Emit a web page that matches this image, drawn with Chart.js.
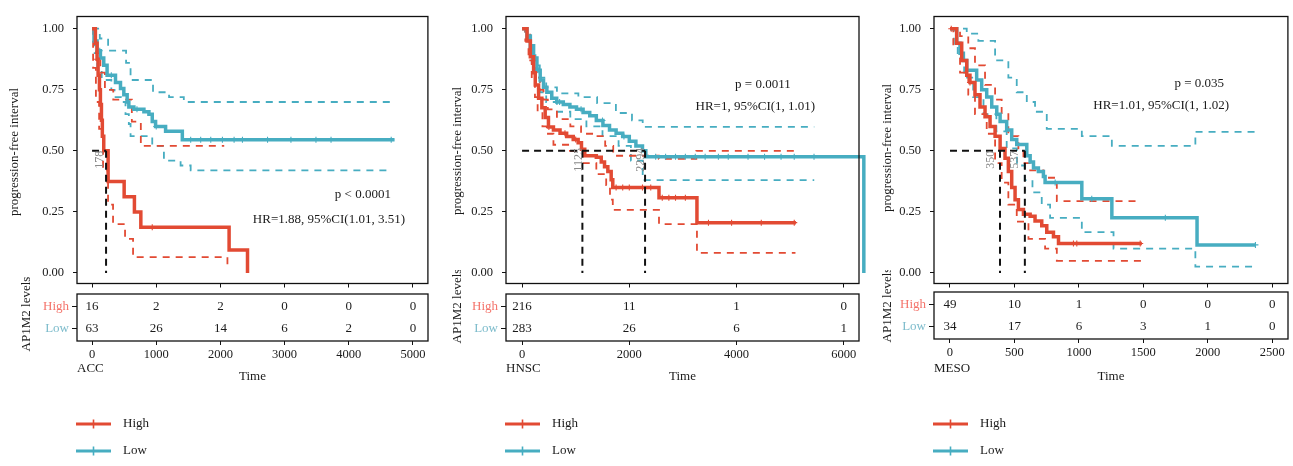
<!DOCTYPE html>
<html>
<head>
<meta charset="utf-8">
<title>AP1M2 levels and progression-free interval</title>
<script src="https://cdn.jsdelivr.net/npm/chart.js@4.4.1/dist/chart.umd.min.js"></script>
<style>
  html, body { margin: 0; padding: 0; background: #fff; }
  #wrap { position: relative; width: 1293px; height: 466px; overflow: hidden; background: #fff; }
  canvas { position: absolute; }
</style>
</head>
<body>
<div id="wrap"></div>
<script>
// ---- values: [time, survival] ----
const yTicks = [0, 0.25, 0.5, 0.75, 1];
const groups = ['High', 'Low'];
const yTitle = 'progression-free interval';
const tableTitle = 'AP1M2 levels';
const xTitle = 'Time';

// ACC
const accHigh = [[0,1],[52,0.94],[78,0.875],[94,0.81],[115,0.75],[130,0.69],[146,0.625],[160,0.56],[182,0.5],[250,0.375],[500,0.3125],[660,0.25],[760,0.1875],[2136,0.094],[2423,0]];
const accHighUp = [[0,1],[60,0.9],[130,0.82],[200,0.75],[330,0.71],[620,0.62],[760,0.52],[2060,0.52]];
const accHighLow = [[0,1],[16,0.84],[60,0.7],[110,0.59],[171,0.42],[249,0.28],[327,0.2],[514,0.14],[639,0.065],[2110,0.025]];
const accHighCens = [78, 938];
const accLow = [[0,1],[30,0.95],[78,0.91],[130,0.88],[182,0.85],[234,0.81],[365,0.78],[443,0.755],[495,0.73],[547,0.7],[573,0.68],[651,0.67],[808,0.66],[886,0.65],[938,0.62],[990,0.6],[1146,0.58],[1407,0.545],[4715,0.545]];
const accLowUp = [[0,1],[120,0.96],[250,0.91],[530,0.86],[600,0.79],[950,0.74],[1200,0.72],[1430,0.7],[4715,0.7]];
const accLowLow = [[0,1],[40,0.9],[80,0.84],[150,0.79],[300,0.75],[350,0.72],[450,0.7],[521,0.65],[573,0.61],[600,0.56],[938,0.52],[1120,0.46],[1380,0.44],[1537,0.42],[4640,0.42]];
const accLowCens = [120, 300, 700, 1000, 1537, 1693, 1850, 2032, 2214, 2344, 2735, 3100, 3490, 3725, 4663];
const accMedianLine = [218];
const accMedianLabel = [178];
const accStats = ['p < 0.0001', 'HR=1.88, 95%CI(1.01, 3.51)'];
const accTimes = [0, 1000, 2000, 3000, 4000, 5000];
const accRiskHigh = [16, 2, 2, 0, 0, 0];
const accRiskLow = [63, 26, 14, 6, 2, 0];

// HNSC
const hnscHigh = [[0,1],[92,0.95],[154,0.885],[215,0.82],[246,0.77],[308,0.715],[369,0.676],[431,0.637],[492,0.598],[585,0.585],[708,0.572],[831,0.559],[954,0.546],[1046,0.533],[1108,0.507],[1169,0.48],[1385,0.474],[1477,0.454],[1538,0.435],[1600,0.415],[1662,0.382],[1692,0.35],[2554,0.308],[3262,0.206],[5108,0.206]];
const hnscHighUp = [[0,1],[90,0.98],[150,0.93],[215,0.87],[280,0.8],[340,0.75],[400,0.71],[480,0.67],[650,0.63],[900,0.6],[1100,0.57],[1350,0.56],[1550,0.52],[1700,0.48],[2550,0.467],[3250,0.5],[5110,0.5]];
const hnscHighLow = [[0,1],[60,0.95],[120,0.87],[180,0.79],[240,0.72],[290,0.66],[380,0.6],[462,0.57],[585,0.525],[892,0.5],[1138,0.45],[1385,0.405],[1569,0.36],[1640,0.3],[1692,0.258],[2554,0.2],[3262,0.082],[5100,0.082]];
const hnscHighCens = [500, 800, 1000, 1754, 1877, 2000, 2246, 2400, 2615, 2738, 2862, 3046, 3477, 3908, 4462, 5077];
const hnscLow = [[0,1],[92,0.97],[154,0.93],[215,0.88],[277,0.83],[338,0.79],[400,0.76],[462,0.74],[554,0.715],[646,0.7],[769,0.69],[892,0.68],[1015,0.67],[1138,0.657],[1262,0.644],[1385,0.624],[1508,0.604],[1631,0.585],[1754,0.572],[1877,0.559],[2000,0.539],[2123,0.52],[2246,0.5],[2308,0.476],[6375,0]];
const hnscLowUp = [[0,1],[60,0.98],[120,0.95],[180,0.9],[250,0.85],[330,0.8],[450,0.76],[650,0.735],[1050,0.72],[1400,0.695],[1750,0.655],[2050,0.625],[2250,0.598],[5450,0.598]];
const hnscLowLow = [[0,1],[60,0.96],[120,0.92],[180,0.86],[250,0.8],[330,0.74],[450,0.7],[650,0.66],[900,0.63],[1200,0.6],[1500,0.56],[1800,0.52],[2030,0.46],[2250,0.38],[5450,0.38]];
const hnscLowCens = [300, 700, 1100, 1500, 1900, 2492, 2677, 2862, 3046, 3231, 3415, 3662, 3846, 4215, 4523, 4831, 5077, 5446];
const hnscMedianLine = [1125, 2294];
const hnscMedianLabel = [1125, 2294];
const hnscStats = ['p = 0.0011', 'HR=1, 95%CI(1, 1.01)'];
const hnscTimes = [0, 2000, 4000, 6000];
const hnscRiskHigh = [216, 11, 1, 0];
const hnscRiskLow = [283, 26, 6, 1];

// MESO
const mesoHigh = [[0,1],[52,0.94],[91,0.87],[130,0.81],[155,0.78],[194,0.73],[233,0.68],[272,0.64],[311,0.6],[350,0.56],[389,0.51],[427,0.47],[453,0.415],[479,0.35],[505,0.3],[531,0.26],[570,0.24],[622,0.232],[660,0.213],[712,0.193],[751,0.167],[803,0.148],[842,0.121],[1489,0.121]];
const mesoHighUp = [[0,1],[78,0.97],[142,0.92],[194,0.85],[272,0.77],[350,0.71],[401,0.65],[453,0.56],[531,0.51],[570,0.45],[622,0.42],[725,0.39],[829,0.294],[1450,0.294]];
const mesoHighLow = [[0,1],[26,0.93],[78,0.82],[142,0.73],[194,0.65],[285,0.57],[350,0.45],[401,0.37],[453,0.28],[518,0.21],[609,0.14],[738,0.1],[829,0.05],[1489,0.05]];
const mesoHighCens = [10, 155, 958, 984, 1476];
const mesoLow = [[0,1],[52,0.94],[78,0.9],[104,0.87],[130,0.83],[207,0.79],[246,0.75],[285,0.72],[324,0.68],[363,0.65],[389,0.62],[440,0.585],[479,0.546],[518,0.526],[596,0.48],[622,0.454],[648,0.43],[686,0.415],[725,0.395],[738,0.37],[1023,0.304],[1256,0.226],[1917,0.115],[2370,0.115]];
const mesoLowUp = [[0,1],[130,0.98],[220,0.95],[350,0.87],[453,0.8],[518,0.74],[596,0.7],[660,0.66],[751,0.59],[1023,0.56],[1256,0.52],[1904,0.578],[2370,0.578]];
const mesoLowLow = [[0,1],[30,0.93],[60,0.88],[110,0.8],[180,0.72],[260,0.65],[360,0.58],[440,0.51],[520,0.44],[580,0.38],[640,0.33],[712,0.28],[777,0.226],[1023,0.167],[1269,0.1],[1904,0.026],[2370,0.026]];
const mesoLowCens = [816, 1100, 1671, 2370];
const mesoMedianLine = [388, 581];
const mesoMedianLabel = [350, 537];
const mesoStats = ['p = 0.035', 'HR=1.01, 95%CI(1, 1.02)'];
const mesoTimes = [0, 500, 1000, 1500, 2000, 2500];
const mesoRiskHigh = [49, 10, 1, 0, 0, 0];
const mesoRiskLow = [34, 17, 6, 3, 1, 0];

// ---- styling / layout ----
const FONT = '"Liberation Serif", "DejaVu Serif", serif';
const RED = '#E24A33';
const TEAL = '#47ADC1';
const RED_LBL = '#F4736A';
const TEAL_LBL = '#7CBBCB';
const INK = '#1a1a1a';
const TAB_TOP = 270;   // page y of the risk-table canvas

const panels = [
  { name: 'ACC', high: accHigh, highUp: accHighUp, highLow: accHighLow, highCens: accHighCens,
    low: accLow, lowUp: accLowUp, lowLow: accLowLow, lowCens: accLowCens,
    medLine: accMedianLine, medLabel: accMedianLabel, stats: accStats,
    times: accTimes, risk: [accRiskHigh, accRiskLow],
    left: 0, width: 433, km: [77, 11, 428, 290], tab: [294, 341], xr: [-235, 5235],
    yTitleX: 15, yTitleY: 152, tabTitleX: 27, tabTitleY: 314, statPos: [[4221, 0.32], [3692, 0.22]] },
  { name: 'HNSC', high: hnscHigh, highUp: hnscHighUp, highLow: hnscHighLow, highCens: hnscHighCens,
    low: hnscLow, lowUp: hnscLowUp, lowLow: hnscLowLow, lowCens: hnscLowCens,
    medLine: hnscMedianLine, medLabel: hnscMedianLabel, stats: hnscStats,
    times: hnscTimes, risk: [hnscRiskHigh, hnscRiskLow],
    left: 430, width: 440, km: [506, 11, 859, 290], tab: [294, 341], xr: [-300, 6285],
    yTitleX: 458, yTitleY: 151, tabTitleX: 458, tabTitleY: 306, statPos: [[4492, 0.77], [4352, 0.68]] },
  { name: 'MESO', high: mesoHigh, highUp: mesoHighUp, highLow: mesoHighLow, highCens: mesoHighCens,
    low: mesoLow, lowUp: mesoLowUp, lowLow: mesoLowLow, lowCens: mesoLowCens,
    medLine: mesoMedianLine, medLabel: mesoMedianLabel, stats: mesoStats,
    times: mesoTimes, risk: [mesoRiskHigh, mesoRiskLow],
    left: 860, width: 433, km: [934, 8, 1288, 287], tab: [292, 339], xr: [-124, 2622],
    yTitleX: 888, yTitleY: 148, tabTitleX: 888, tabTitleY: 305, statPos: [[1934, 0.776], [1639, 0.686]] }
];

function pts(curve) { return curve.map(p => ({ x: p[0], y: p[1] })); }
function stepAt(curve, t) {
  let s = curve[0][1];
  curve.forEach(p => { if (p[0] <= t) s = p[1]; });
  return s;
}
function makeCanvas(left, top, w, h) {
  const c = document.createElement('canvas');
  c.width = w; c.height = h;
  c.style.left = left + 'px'; c.style.top = top + 'px';
  c.style.width = w + 'px'; c.style.height = h + 'px';
  document.getElementById('wrap').appendChild(c);
  return c.getContext('2d');
}
function stepLine(curve, color, width, dash) {
  return { data: pts(curve), showLine: true, stepped: 'before', borderColor: color, borderWidth: width,
           borderDash: dash || [], pointRadius: 0, fill: false, clip: { left: 0, top: 0, right: 8, bottom: 0 } };
}
function censMarks(curve, times, color) {
  return { data: times.map(t => ({ x: t, y: stepAt(curve, t) })), showLine: false, pointStyle: 'cross',
           pointRadius: 3, borderColor: color, borderWidth: 1.1 };
}
function blackDash(data) {
  return { data: data, showLine: true, borderColor: '#111', borderWidth: 2, borderDash: [7, 5], pointRadius: 0 };
}
function rotText(ctx, text, x, y) {
  ctx.save();
  ctx.translate(x, y);
  ctx.rotate(-Math.PI / 2);
  ctx.fillText(text, 0, 0);
  ctx.restore();
}
function fixedTicks(values) {
  return axis => { axis.ticks = values.map(v => ({ value: v })); };
}

function drawKM(p) {
  const H = 300;
  const ctx = makeCanvas(p.left, 0, p.width, H);
  const a = { l: p.km[0] - p.left, t: p.km[1], r: p.km[2] - p.left, b: p.km[3] };

  const datasets = [];
  const lastMed = Math.max(...p.medLine);
  datasets.push(blackDash([{ x: 0, y: 0.5 }, { x: lastMed, y: 0.5 }]));
  p.medLine.forEach(m => datasets.push(blackDash([{ x: m, y: 0.5 }, { x: m, y: 0 }])));
  datasets.push(stepLine(p.high, RED, 3.5));
  datasets.push(stepLine(p.low, TEAL, 3.5));
  datasets.push(censMarks(p.high, p.highCens, RED));
  datasets.push(censMarks(p.low, p.lowCens, TEAL));
  datasets.push(stepLine(p.highUp, RED, 1.8, [7, 6]));
  datasets.push(stepLine(p.highLow, RED, 1.8, [7, 6]));
  datasets.push(stepLine(p.lowUp, TEAL, 1.8, [7, 6]));
  datasets.push(stepLine(p.lowLow, TEAL, 1.8, [7, 6]));

  const kmText = {
    id: 'kmText',
    afterDraw(chart) {
      const c = chart.ctx, ca = chart.chartArea;
      const xs = chart.scales.x, ys = chart.scales.y;
      c.save();
      c.strokeStyle = '#111';
      c.lineWidth = 1.3;
      c.strokeRect(ca.left, ca.top, ca.right - ca.left, ca.bottom - ca.top);
      c.fillStyle = INK;
      c.textAlign = 'center';
      c.textBaseline = 'middle';
      c.font = '13px ' + FONT;
      rotText(c, yTitle, p.yTitleX - p.left, p.yTitleY);
      p.stats.forEach((s, i) => {
        c.fillText(s, xs.getPixelForValue(p.statPos[i][0]), ys.getPixelForValue(p.statPos[i][1]));
      });
      c.fillStyle = '#8a8a8a';
      c.font = '12px ' + FONT;
      p.medLabel.forEach(v => {
        rotText(c, String(v), xs.getPixelForValue(v) - 4, ys.getPixelForValue(0.5) + 9);
      });
      c.restore();
    }
  };

  new Chart(ctx, {
    type: 'scatter',
    data: { datasets: datasets },
    options: {
      responsive: false, animation: false, events: [],
      layout: { padding: { top: a.t, right: p.width - a.r, left: 0, bottom: 0 } },
      plugins: { legend: { display: false }, tooltip: { enabled: false } },
      scales: {
        x: {
          type: 'linear', min: p.xr[0], max: p.xr[1],
          afterBuildTicks: fixedTicks(p.times),
          ticks: { callback: () => '', autoSkip: false },
          grid: { drawOnChartArea: false, tickLength: 4, color: '#111' },
          border: { display: false },
          afterFit: axis => { axis.height = H - a.b; }
        },
        y: {
          type: 'linear', min: -0.043, max: 1.05,
          afterBuildTicks: fixedTicks(yTicks),
          ticks: { callback: v => Number(v).toFixed(2), color: INK, padding: 9, font: { family: FONT, size: 12.5 } },
          grid: { drawOnChartArea: false, tickLength: 4, color: '#111' },
          border: { display: false },
          afterFit: axis => { axis.width = a.l; }
        }
      }
    },
    plugins: [kmText]
  });
}

function drawTable(p) {
  const H = 466 - TAB_TOP;
  const ctx = makeCanvas(p.left, TAB_TOP, p.width, H);
  const a = { l: p.km[0] - p.left, t: p.tab[0] - TAB_TOP, r: p.km[2] - p.left, b: p.tab[1] - TAB_TOP };
  const rows = [2, 1];

  const datasets = p.risk.map((vals, k) => ({
    data: p.times.map(t => ({ x: t, y: rows[k] })), pointRadius: 0, showLine: false
  }));

  const tabText = {
    id: 'tabText',
    afterDraw(chart) {
      const c = chart.ctx, ca = chart.chartArea;
      c.save();
      c.strokeStyle = '#111';
      c.lineWidth = 1.3;
      c.strokeRect(ca.left, ca.top, ca.right - ca.left, ca.bottom - ca.top);
      c.fillStyle = INK;
      c.textAlign = 'center';
      c.textBaseline = 'middle';
      c.font = '13px ' + FONT;
      p.risk.forEach((vals, k) => {
        chart.getDatasetMeta(k).data.forEach((el, j) => c.fillText(String(vals[j]), el.x, el.y));
      });
      c.fillText(xTitle, (ca.left + ca.right) / 2, 377 - TAB_TOP);
      rotText(c, tableTitle, p.tabTitleX - p.left, p.tabTitleY - TAB_TOP);
      c.textAlign = 'left';
      c.fillText(p.name, ca.left, 369 - TAB_TOP);
      // legend
      [RED, TEAL].forEach((col, k) => {
        const y = [424, 451][k] - TAB_TOP;
        const x0 = ca.left - 1;
        c.strokeStyle = col;
        c.lineWidth = 3;
        c.beginPath(); c.moveTo(x0, y); c.lineTo(x0 + 35, y); c.stroke();
        c.lineWidth = 1.6;
        c.beginPath(); c.moveTo(x0 + 17.5, y - 4.5); c.lineTo(x0 + 17.5, y + 4.5); c.stroke();
        c.fillStyle = INK;
        c.fillText(groups[k], x0 + 47, y);
      });
      c.restore();
    }
  };

  new Chart(ctx, {
    type: 'scatter',
    data: { datasets: datasets },
    options: {
      responsive: false, animation: false, events: [],
      layout: { padding: { top: a.t, right: p.width - a.r, left: 0, bottom: 0 } },
      plugins: { legend: { display: false }, tooltip: { enabled: false } },
      scales: {
        x: {
          type: 'linear', min: p.xr[0], max: p.xr[1],
          afterBuildTicks: fixedTicks(p.times),
          ticks: { callback: v => String(v), autoSkip: false, maxRotation: 0, color: INK, padding: 2, font: { family: FONT, size: 12.5 } },
          grid: { drawOnChartArea: false, tickLength: 4, color: '#111' },
          border: { display: false },
          afterFit: axis => { axis.height = H - a.b; }
        },
        y: {
          type: 'linear', min: 0.43, max: 2.57,
          afterBuildTicks: fixedTicks(rows),
          ticks: {
            callback: v => (v === 2 ? groups[0] : groups[1]),
            color: c => (c.tick && c.tick.value === 2 ? RED_LBL : TEAL_LBL),
            padding: 3, font: { family: FONT, size: 13 }
          },
          grid: { drawOnChartArea: false, tickLength: 5, color: '#111' },
          border: { display: false },
          afterFit: axis => { axis.width = a.l; }
        }
      }
    },
    plugins: [tabText]
  });
}

panels.forEach(p => { drawKM(p); drawTable(p); });
</script>
</body>
</html>
